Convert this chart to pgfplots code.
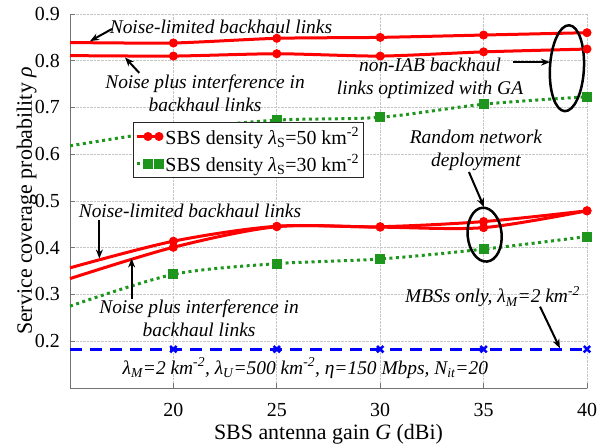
\documentclass[border=0pt]{standalone}
\usepackage{fontspec}
\setmainfont{Liberation Serif}
\usepackage{pgfplots}
\pgfplotsset{compat=1.18}
\usetikzlibrary{arrows.meta}

\definecolor{mred}{RGB}{255,0,0}
\definecolor{mgreen}{RGB}{30,150,30}
\definecolor{mblue}{RGB}{0,0,255}

\newcommand{\annfont}{\fontsize{19.5}{23}\selectfont\itshape}
\tikzset{ann/.style={font=\annfont, align=center, inner sep=0pt},
  arr/.style={-{Stealth[length=9bp,width=7bp]}, line width=2bp},
  ell/.style={line width=2.5bp}}

\begin{document}
\begin{tikzpicture}
\begin{axis}[name=ax,
  scale only axis, width=517bp, height=374bp,
  xmin=15, xmax=40, ymin=0.1, ymax=0.9,
  xtick={20,25,30,35,40},
  ytick={0.2,0.3,0.4,0.5,0.6,0.7,0.8,0.9},
  /pgf/number format/assume math mode=true,
  yticklabel style={/pgf/number format/fixed, /pgf/number format/precision=1,
    font=\fontsize{20}{24}\selectfont, anchor=east, inner sep=0pt, xshift=-10bp},
  xticklabel style={font=\fontsize{20}{24}\selectfont, anchor=base, yshift=-29bp},
  axis x line*=bottom, axis y line*=left,
  axis line style={-, black!55, line width=0.8bp},
  tick align=inside, major tick length=5bp,
  tick style={black!55, line width=0.8bp},
  grid=major, grid style={densely dotted, black!22, line width=0.7bp},
  xlabel={SBS antenna gain \textit{G} (dBi)},
  xlabel style={font=\fontsize{22}{26}\selectfont, at={(axis description cs:0.5,-0.138)}, anchor=base},
  ylabel={Service coverage probability \textit{ρ}},
  ylabel style={font=\fontsize{22}{26}\selectfont, at={(axis description cs:-0.064,0.5)}, anchor=south, inner sep=0pt},
  clip=false,
  legend style={at={(axis cs:18.05,0.669)}, anchor=north west, draw=black!85,
    line width=0.8bp, fill=white, font=\fontsize{20}{24}\selectfont,
    inner xsep=2bp, inner ysep=3bp, row sep=5bp, cells={anchor=west}},
  legend image code/.code={\draw[#1] plot coordinates {(0bp,0bp) (11bp,0bp) (22bp,0bp)};},
  redline/.style={mred, line width=3bp, smooth, mark=*, mark size=4bp,
    mark options={solid, fill=mred, line width=1bp}, mark indices={2,3,4,5,6}},
  greenline/.style={mgreen, line width=3bp, dash pattern=on 3bp off 3.5bp, smooth, mark=square*, mark size=4.5bp,
    mark options={solid, fill=mgreen, line width=1bp}, mark indices={2,3,4,5,6}},
]

% lambda_S = 50, non-IAB backhaul optimized with GA
\addplot[redline, tension=0.4] coordinates {(15,0.839) (20,0.838) (25,0.848) (30,0.850) (35,0.855) (40,0.860)};
\addlegendentry{SBS density \textit{λ}\textsubscript{S}=50 km\textsuperscript{-2}}
% lambda_S = 30, GA
\addplot[greenline] coordinates {(15,0.618) (20,0.652) (25,0.673) (30,0.679) (35,0.707) (40,0.723)};
\addlegendentry{SBS density \textit{λ}\textsubscript{S}=30 km\textsuperscript{-2}}
\addplot[redline, tension=0.4, forget plot] coordinates {(15,0.811) (20,0.810) (25,0.815) (30,0.810) (35,0.819) (40,0.825)};

% random network deployment
\addplot[redline, forget plot] coordinates {(15,0.357) (20,0.414) (25,0.446) (30,0.445) (35,0.456) (40,0.479)};
\addplot[redline, forget plot] coordinates {(15,0.334) (20,0.401) (25,0.445) (30,0.444) (35,0.443) (40,0.479)};
\addplot[greenline, forget plot] coordinates {(15,0.275) (20,0.343) (25,0.366) (30,0.376) (35,0.397) (40,0.424)};

% MBSs only
\addplot[mblue, line width=3bp, dash pattern=on 12bp off 8bp, mark=x, mark size=4.5bp,
  mark options={solid, line width=2.5bp}, mark indices={2,3,4,5,6}, forget plot]
  coordinates {(15,0.183) (20,0.183) (25,0.183) (30,0.183) (35,0.183) (40,0.183)};

% annotations
\node[ann] at (axis cs:22.30,0.872) {Noise-limited backhaul links};
\draw[arr] (axis cs:17.03,0.868) -- (axis cs:15.97,0.842);
\node[ann] at (axis cs:21.53,0.730) {Noise plus interference in\\backhaul links};
\draw[arr] (axis cs:18.35,0.774) -- (axis cs:17.66,0.807);

\node[ann] at (axis cs:32.41,0.762) {non-IAB backhaul\\links optimized with GA};
\draw[arr] (axis cs:36.42,0.797) -- (axis cs:38.21,0.797);
\draw[ell, rotate around={-3:(axis cs:39.03,0.784)}] (axis cs:39.03,0.784) ellipse [x radius=17bp, y radius=43bp];

\node[ann] at (axis cs:34.63,0.608) {Random network\\deployment};
\draw[arr] (axis cs:34.29,0.562) -- (axis cs:35.02,0.487);
\draw[ell, rotate around={5:(axis cs:35.05,0.428)}] (axis cs:35.05,0.428) ellipse [x radius=17bp, y radius=27bp];

\node[ann] at (axis cs:20.80,0.479) {Noise-limited backhaul links};
\draw[arr] (axis cs:16.42,0.459) -- (axis cs:16.42,0.377);
\node[ann] at (axis cs:21.24,0.249) {Noise plus interference in\\backhaul links};
\draw[arr] (axis cs:17.98,0.290) -- (axis cs:17.98,0.377);

\node[ann] at (axis cs:35.43,0.295) {MBSs only, \textit{λ}\textsubscript{M}=2 km\textsuperscript{-2}};
\draw[arr] (axis cs:37.73,0.274) -- (axis cs:38.69,0.185);

\node[ann] at (axis cs:26.38,0.143) {\textit{λ}\textsubscript{M}=2 km\textsuperscript{-2}, \textit{λ}\textsubscript{U}=500 km\textsuperscript{-2}, \textit{η}=150 Mbps, \textit{N}\textsubscript{it}=20};
\end{axis}
\pgfresetboundingbox
\path[use as bounding box] ([xshift=-70bp,yshift=-57bp]ax.south west) rectangle ([xshift=27bp,yshift=14bp]ax.north east);
\end{tikzpicture}
\end{document}
